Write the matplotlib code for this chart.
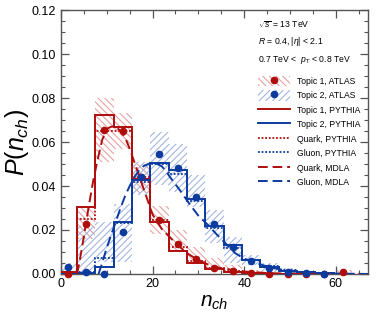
import numpy as np
import matplotlib
matplotlib.use("Agg")
import matplotlib.pyplot as plt
from matplotlib.patches import Patch
from matplotlib.lines import Line2D
from matplotlib.ticker import MultipleLocator

plt.rcParams['font.family'] = ['Liberation Sans', 'DejaVu Sans']
plt.rcParams['mathtext.fontset'] = 'custom'
plt.rcParams['mathtext.rm'] = 'Liberation Sans'
plt.rcParams['mathtext.it'] = 'Liberation Sans:italic'
plt.rcParams['hatch.linewidth'] = 0.8

# bins of width 4 starting at -0.5
edges = -0.5 + 4 * np.arange(17)
centers = 0.5 * (edges[:-1] + edges[1:])

# ATLAS data points
atlas_t1 = [0.0, 0.0228, 0.0657, 0.0652, 0.044, 0.0245, 0.0136, 0.0068,
            0.0027, 0.0014, 0.0005, 0.0002, 0.0001, 0.0, 0.0, 0.0008]
atlas_t2 = [0.0033, 0.0008, 0.0, 0.019, 0.0439, 0.0545, 0.0484, 0.035,
            0.0227, 0.0123, 0.006, 0.0027, 0.001, 0.0003, 0.0001, np.nan]

# uncertainty bands (low, high)
t1_lo = [0.0, 0.016, 0.051, 0.057, 0.037, 0.018, 0.010, 0.0048,
         0.0018, 0.0003, 0.0, 0.0, 0.0, 0.0, 0.0, 0.0]
t1_hi = [0.001, 0.031, 0.080, 0.073, 0.050, 0.031, 0.020, 0.0124,
         0.0072, 0.004, 0.002, 0.001, 0.0006, 0.0004, 0.0003, 0.002]
t2_lo = [0.001, 0.001, 0.0056, 0.0056, 0.036, 0.0403, 0.0373, 0.0305,
         0.014, 0.005, 0.004, 0.001, 0.0, 0.0, 0.0, 0.0]
t2_hi = [0.005, 0.022, 0.0237, 0.032, 0.051, 0.0645, 0.059, 0.045,
         0.029, 0.017, 0.0086, 0.005, 0.0025, 0.001, 0.0005, 0.0002]

# PYTHIA histograms
py_t1 = [0.001, 0.0305, 0.0723, 0.067, 0.043, 0.0235, 0.0106, 0.005,
         0.0023, 0.0011, 0.0005, 0.0002, 0.0001, 0.0, 0.0, 0.0]
py_t2 = [0.0, 0.0003, 0.0033, 0.0237, 0.0429, 0.0504, 0.0471, 0.0343,
         0.022, 0.0131, 0.0063, 0.0033, 0.0015, 0.0007, 0.0003, 0.0001]
py_quark = [0.001, 0.025, 0.0652, 0.0652, 0.044, 0.0245, 0.0124, 0.006,
            0.0028, 0.0013, 0.0006, 0.0002, 0.0001, 0.0, 0.0, 0.0]
py_gluon = [0.0, 0.001, 0.0074, 0.023, 0.042, 0.050, 0.0453, 0.033,
            0.021, 0.012, 0.0065, 0.0035, 0.0017, 0.0008, 0.0003, 0.0001]

# MDLA curves
mdla_q_n = [3.5, 4, 5, 6, 7, 8, 9, 10, 11, 12, 13, 14, 15, 16, 17, 18, 19, 20,
            22, 24, 26, 28, 30, 32, 35, 40, 45, 50, 55, 60, 67]
mdla_q_p = [0.0, 0.005, 0.017, 0.030, 0.042, 0.052, 0.061, 0.066, 0.067, 0.067,
            0.065, 0.062, 0.057, 0.051, 0.045, 0.039, 0.033, 0.027, 0.0205,
            0.0162, 0.0122, 0.0088, 0.0063, 0.0044, 0.0026, 0.0011, 0.0004,
            0.00015, 0.00005, 0.0, 0.0]
mdla_g_n = [8.2, 9, 10, 11, 12, 13, 14, 15, 16, 17, 18, 19, 20, 21, 22, 23, 24,
            26, 28, 30, 32, 34, 36, 38, 40, 43, 46, 50, 55, 60, 67]
mdla_g_p = [0.0, 0.005, 0.012, 0.018, 0.024, 0.030, 0.0355, 0.040, 0.044, 0.047,
            0.049, 0.050, 0.0505, 0.050, 0.049, 0.0465, 0.0435, 0.038, 0.032,
            0.0265, 0.0225, 0.018, 0.0138, 0.0095, 0.007, 0.0047, 0.0028,
            0.0013, 0.0005, 0.0002, 0.0]

red = '#b00d0d'
blue = '#0b3b9e'
red_h = '#e6a3a3'
blue_h = '#a3b6e3'

fig = plt.figure(figsize=(3.86, 3.16), dpi=100)
ax = fig.add_axes([0.158, 0.133, 0.795, 0.835])

w = edges[1:] - edges[:-1]
ax.bar(centers, np.array(t1_hi) - np.array(t1_lo), bottom=t1_lo, width=w,
       fill=False, hatch='\\\\\\\\\\', edgecolor=red_h, linewidth=0, zorder=1)
ax.bar(centers, np.array(t2_hi) - np.array(t2_lo), bottom=t2_lo, width=w,
       fill=False, hatch='/////', edgecolor=blue_h, linewidth=0, zorder=1)

ax.stairs(py_t1, edges, color=red, lw=1.4, zorder=3)
ax.stairs(py_t2, edges, color=blue, lw=1.4, zorder=3)
ax.stairs(py_quark, edges, color=red, lw=1.3, ls=(0, (1, 1)), zorder=3)
ax.stairs(py_gluon, edges, color=blue, lw=1.3, ls=(0, (1, 1)), zorder=3)

ax.plot(mdla_q_n, mdla_q_p, color=red, lw=1.4, ls=(0, (5, 2.5)), zorder=4)
ax.plot(mdla_g_n, mdla_g_p, color=blue, lw=1.4, ls=(0, (5, 2.5)), zorder=4)

ax.plot(centers, atlas_t1, 'o', color=red, ms=4.5, clip_on=False, zorder=5)
ax.plot(centers, atlas_t2, 'o', color=blue, ms=4.5, clip_on=False, zorder=6)

ax.set_xlim(0, 67)
ax.set_ylim(0, 0.12)
ax.xaxis.set_major_locator(MultipleLocator(20))
ax.xaxis.set_minor_locator(MultipleLocator(5))
ax.yaxis.set_major_locator(MultipleLocator(0.02))
ax.yaxis.set_minor_locator(MultipleLocator(0.005))
ax.yaxis.set_major_formatter(matplotlib.ticker.FormatStrFormatter('%.2f'))
ax.tick_params(which='both', direction='in', top=True, right=True,
               color='#555555', labelsize=9)
ax.tick_params(which='major', length=6, width=0.9)
ax.tick_params(which='minor', length=3, width=0.8)
ax.tick_params(axis='x', pad=3)
ax.tick_params(axis='y', pad=4)
for s in ax.spines.values():
    s.set_color('#555555')
    s.set_linewidth(1.0)

ax.set_xlabel(r'$n_{ch}$', fontsize=15, labelpad=2)
ax.set_ylabel(r'$P(n_{ch})$', fontsize=18, labelpad=0)

fs = 6.2
fig.text(0.668, (316 - 25) / 316, r'$\sqrt{s}$ = 13 TeV', fontsize=fs, va='center')
fig.text(0.668, (316 - 42) / 316, r'$R$ = 0.4, $|\eta|$ < 2.1', fontsize=fs, va='center')
fig.text(0.668, (316 - 60) / 316, r'0.7 TeV <  $p_{\rm T}$ < 0.8 TeV', fontsize=fs, va='center')

handles = [
    (Patch(facecolor='none', edgecolor=red_h, hatch='\\\\\\\\\\', lw=0),
     Line2D([], [], marker='o', color=red, ls='none', ms=4.5)),
    (Patch(facecolor='none', edgecolor=blue_h, hatch='/////', lw=0),
     Line2D([], [], marker='o', color=blue, ls='none', ms=4.5)),
    Line2D([], [], color=red, lw=1.4),
    Line2D([], [], color=blue, lw=1.4),
    Line2D([], [], color=red, lw=1.3, ls=(0, (1, 1))),
    Line2D([], [], color=blue, lw=1.3, ls=(0, (1, 1))),
    Line2D([], [], color=red, lw=1.4, ls=(0, (5, 2.5))),
    Line2D([], [], color=blue, lw=1.4, ls=(0, (5, 2.5))),
]
labels = ['Topic 1, ATLAS', 'Topic 2, ATLAS', 'Topic 1, PYTHIA', 'Topic 2, PYTHIA',
          'Quark, PYTHIA', 'Gluon, PYTHIA', 'Quark, MDLA', 'Gluon, MDLA']
fig.legend(handles, labels, loc='upper left',
           bbox_to_anchor=(0.668, (316 - 76) / 316), frameon=False,
           fontsize=fs, handlelength=3.75, handleheight=1.45, handletextpad=0.75,
           labelspacing=0.49, borderpad=0, borderaxespad=0)

fig.savefig('out.png', dpi=100)
